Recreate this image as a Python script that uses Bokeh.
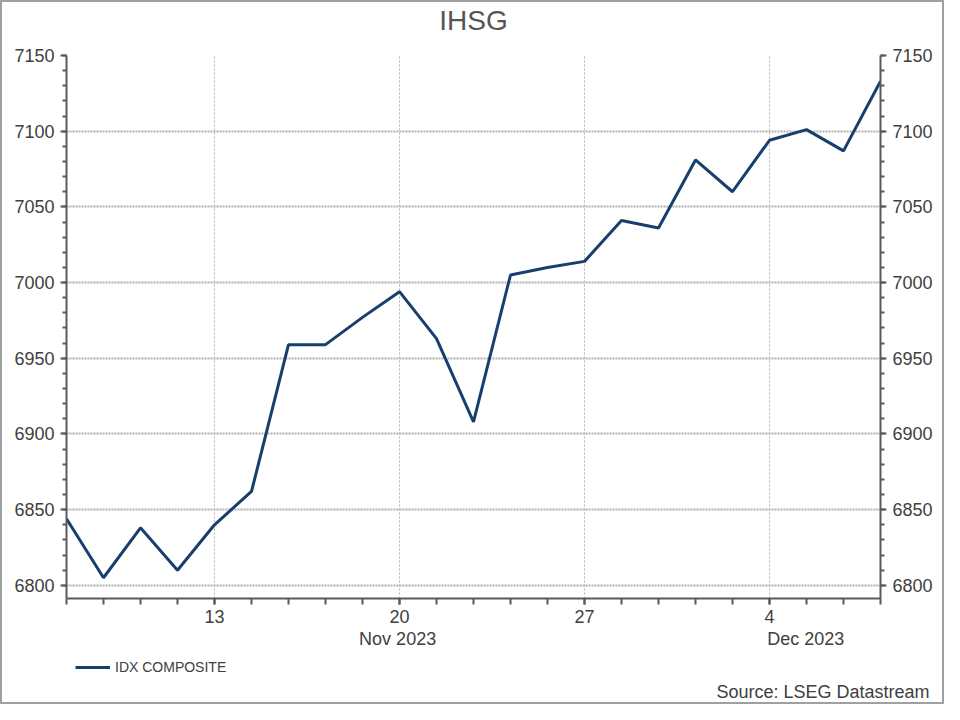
from bokeh.plotting import figure
from bokeh.layouts import column
from bokeh.models import (Range1d, LinearAxis, FixedTicker, SingleIntervalTicker,
                          Legend, LegendItem, ColumnDataSource, Label, Title)
from bokeh.embed import file_html
from bokeh.resources import INLINE

# ---- data ----
dates = ["2023-11-07", "2023-11-08", "2023-11-09", "2023-11-10",
         "2023-11-13", "2023-11-14", "2023-11-15", "2023-11-16", "2023-11-17",
         "2023-11-20", "2023-11-21", "2023-11-22", "2023-11-23", "2023-11-24",
         "2023-11-27", "2023-11-28", "2023-11-29", "2023-11-30", "2023-12-01",
         "2023-12-04", "2023-12-05", "2023-12-06", "2023-12-07"]
idx_composite = [6844, 6805, 6838, 6810,
                 6840, 6862, 6959, 6959, 6977,
                 6994, 6963, 6908, 7005, 7010,
                 7014, 7041, 7036, 7081, 7060,
                 7094, 7101, 7087, 7133]
monday_dates = ["2023-11-13", "2023-11-20", "2023-11-27", "2023-12-04"]
monday_labels = ["13", "20", "27", "4"]
month_labels = ["Nov 2023", "Dec 2023"]
month_label_pos = [8.95, 19.98]   # in trading-day index units
series_name = "IDX COMPOSITE"
title_text = "IHSG"
source_text = "Source: LSEG Datastream"
y_step = 50

xs = list(range(len(dates)))
src = ColumnDataSource(dict(x=xs, y=idx_composite, date=dates))

FONT = "Liberation Sans"
AX = "#5a5a5a"
TXT = "#404040"
LINE = "#173f6e"
W = 940


def blank_fig(h):
    f = figure(width=W, height=h, output_backend="svg", toolbar_location=None,
               x_axis_location=None, y_axis_location=None,
               x_range=Range1d(0, 1), y_range=Range1d(0, 1),
               min_border_left=64, min_border_right=62, min_border_top=0, min_border_bottom=0)
    f.grid.visible = False
    f.outline_line_color = None
    f.background_fill_color = "white"
    f.border_fill_color = "white"
    return f


# ---- title strip ----
pt = blank_fig(36)
pt.add_layout(Label(x=407, y=18.4, x_units="screen", y_units="screen", text=title_text,
                    text_align="center", text_baseline="middle", text_font=FONT,
                    text_font_size="28px", text_color="#555555"))

# ---- main chart ----
p = figure(width=W, height=620, output_backend="svg", toolbar_location=None,
           x_range=Range1d(0, len(dates) - 1), y_range=Range1d(6791.3, 7150),
           min_border_left=64, min_border_right=62, min_border_top=17, min_border_bottom=60)
p.outline_line_color = None
p.background_fill_color = "white"
p.border_fill_color = "white"

r = p.line("x", "y", source=src, line_color=LINE, line_width=3)


def style_axis(ax, minor_out):
    ax.axis_line_color = AX
    ax.axis_line_width = 2
    ax.major_tick_line_color = AX
    ax.minor_tick_line_color = AX
    ax.major_tick_line_width = 2
    ax.minor_tick_line_width = 2
    ax.major_tick_out = 6
    ax.major_tick_in = 0
    ax.minor_tick_out = minor_out
    ax.minor_tick_in = 0
    ax.major_label_text_font = FONT
    ax.major_label_text_font_size = "18px"
    ax.major_label_text_color = TXT
    ax.major_label_standoff = 6


mon_idx = [dates.index(d) for d in monday_dates]
xt = FixedTicker(ticks=mon_idx, minor_ticks=xs)
xa = p.xaxis[0]
xa.ticker = xt
xa.major_label_overrides = {i: lab for i, lab in zip(mon_idx, monday_labels)}
style_axis(xa, 6)
xa.major_label_standoff = 5

ma = LinearAxis(ticker=FixedTicker(ticks=month_label_pos, minor_ticks=[]),
                major_label_overrides={pos: lab for pos, lab in zip(month_label_pos, month_labels)})
ma.axis_line_color = None
ma.major_tick_line_color = None
ma.minor_tick_line_color = None
ma.major_tick_out = 0
ma.major_tick_in = 0
ma.major_label_standoff = 3
ma.major_label_text_font = FONT
ma.major_label_text_font_size = "18px"
ma.major_label_text_color = TXT
p.add_layout(ma, "below")

yt = SingleIntervalTicker(interval=y_step, num_minor_ticks=5)
ya = p.yaxis[0]
yr = LinearAxis()
p.add_layout(yr, "right")
for ax in [ya, yr]:
    ax.ticker = yt
    style_axis(ax, 4)

p.xgrid.ticker = xt
p.xgrid.grid_line_color = "#b5b5b5"
p.xgrid.grid_line_dash = "2 2"
p.xgrid.grid_line_width = 1
p.ygrid.ticker = yt
p.ygrid.grid_line_color = "#b0b0b0"
p.ygrid.grid_line_dash = "2 1"
p.ygrid.grid_line_width = 2

# ---- footer strip: legend + source ----
pb = blank_fig(44)
rb = pb.line(xs, idx_composite, line_color=LINE, line_width=3)  # same series, outside view
leg = Legend(items=[LegendItem(label=series_name, renderers=[rb])],
             location=(9, 1), orientation="horizontal",
             border_line_color=None, background_fill_alpha=0,
             padding=0, margin=0, spacing=0, glyph_width=35, glyph_height=20,
             label_standoff=5, label_text_font=FONT, label_text_font_size="14px",
             label_text_color=TXT, label_height=20)
pb.add_layout(leg, "center")
pb.add_layout(Title(text=source_text, align="right", offset=-49, standoff=2,
                    text_font=FONT, text_font_size="18px", text_font_style="normal",
                    text_color=TXT), "below")

layout = column(pt, p, pb, spacing=0, styles={"border": "2px solid #a0a0a0"})

open("out.html", "w").write(file_html(layout, INLINE))
